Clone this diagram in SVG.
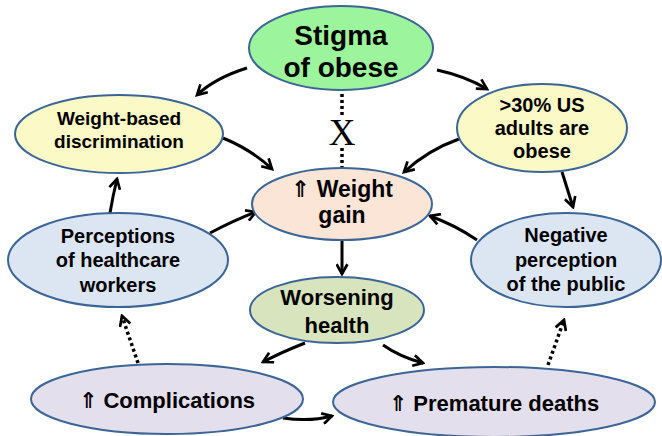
<svg xmlns="http://www.w3.org/2000/svg" width="662" height="436" viewBox="0 0 662 436">
<defs>
<style>
.n{stroke:#3C6596;stroke-width:2}
.t{font-family:"Liberation Sans","DejaVu Sans",Arial,sans-serif;font-weight:bold;fill:#000;text-anchor:middle}
.c{fill:none;stroke:#000;stroke-width:3}
.d{fill:none;stroke:#000;stroke-width:3.5;stroke-dasharray:3 3}
</style>
<marker id="a" viewBox="0 0 12 12" refX="10" refY="6" markerWidth="13" markerHeight="13" markerUnits="userSpaceOnUse" orient="auto">
<path d="M1,1 L10,6 L1,11" fill="none" stroke="#000" stroke-width="2.5" stroke-linejoin="miter"/>
</marker>
</defs>
<rect width="662" height="436" fill="#fff"/>
<g id="connectors">
<path class="c" d="M247,68 Q215,78 197,95" marker-end="url(#a)"/>
<path class="c" d="M437,70 Q465,76 487,89" marker-end="url(#a)"/>
<path class="d" d="M342,94 L342,115"/>
<path class="d" d="M342,148 L342,167"/>
<text x="342" y="145" font-family="'Liberation Serif','Times New Roman',serif" font-size="37" text-anchor="middle" fill="#000">X</text>
<path class="c" d="M223,138 Q252,150 272,169" marker-end="url(#a)"/>
<path class="c" d="M459,139 Q428,150 404,172" marker-end="url(#a)"/>
<path class="c" d="M562,172 L573,207" marker-end="url(#a)"/>
<path class="c" d="M110,213 Q113,195 117,179" marker-end="url(#a)"/>
<path class="c" d="M210,233 Q235,220 256,212" marker-end="url(#a)"/>
<path class="c" d="M477,240 Q455,225 430,216" marker-end="url(#a)"/>
<path class="c" d="M342,240 L342,274" marker-end="url(#a)"/>
<path class="c" d="M305,343 Q282,352 263,362" marker-end="url(#a)"/>
<path class="c" d="M383,345 Q400,357 423,363" marker-end="url(#a)"/>
<path class="c" d="M283,418 Q310,422 332,416" marker-end="url(#a)"/>
<path class="d" d="M138,363 L122,316" marker-end="url(#a)"/>
<path class="d" d="M548,365 L564,320" marker-end="url(#a)"/>
</g>
<g id="stigma">
<ellipse class="n" cx="341" cy="48" rx="92" ry="42" fill="#9CF59C"/>
<text class="t" x="341" y="45" font-size="28">Stigma</text>
<text class="t" x="341" y="77" font-size="28">of obese</text>
</g>
<g id="discrimination">
<ellipse class="n" cx="119" cy="134" rx="104" ry="39" fill="#FBF9C6"/>
<text class="t" x="119" y="125" font-size="19">Weight-based</text>
<text class="t" x="119" y="148" font-size="19">discrimination</text>
</g>
<g id="us-adults">
<ellipse class="n" cx="542" cy="128" rx="85" ry="44" fill="#FBF9C6"/>
<text class="t" x="542" y="112" font-size="20">&gt;30% US</text>
<text class="t" x="542" y="135" font-size="20">adults are</text>
<text class="t" x="542" y="158" font-size="20">obese</text>
</g>
<g id="weight-gain">
<ellipse class="n" cx="342" cy="204" rx="90" ry="36" fill="#FBE5D6"/>
<text class="t" x="342" y="197" font-size="23">⇑ Weight</text>
<text class="t" x="342" y="223" font-size="23">gain</text>
</g>
<g id="healthcare-workers">
<ellipse class="n" cx="118" cy="260" rx="110" ry="47" fill="#DCE6F2"/>
<text class="t" x="118" y="243" font-size="20">Perceptions</text>
<text class="t" x="118" y="267" font-size="20">of healthcare</text>
<text class="t" x="118" y="292" font-size="20">workers</text>
</g>
<g id="public">
<ellipse class="n" cx="566" cy="260" rx="95" ry="47" fill="#DCE6F2"/>
<text class="t" x="566" y="242" font-size="20">Negative</text>
<text class="t" x="566" y="267" font-size="20">perception</text>
<text class="t" x="566" y="291" font-size="20">of the public</text>
</g>
<g id="worsening">
<ellipse class="n" cx="337" cy="310" rx="87" ry="33" fill="#D7E4BD"/>
<text class="t" x="337" y="305" font-size="22">Worsening</text>
<text class="t" x="337" y="333" font-size="22">health</text>
</g>
<g id="complications">
<ellipse class="n" cx="167" cy="399" rx="136" ry="35" fill="#E4DFEC"/>
<text class="t" x="167" y="408" font-size="22">⇑ Complications</text>
</g>
<g id="premature">
<ellipse class="n" cx="494" cy="402" rx="161" ry="35" fill="#E4DFEC"/>
<text class="t" x="494" y="411" font-size="22">⇑ Premature deaths</text>
</g>
</svg>
